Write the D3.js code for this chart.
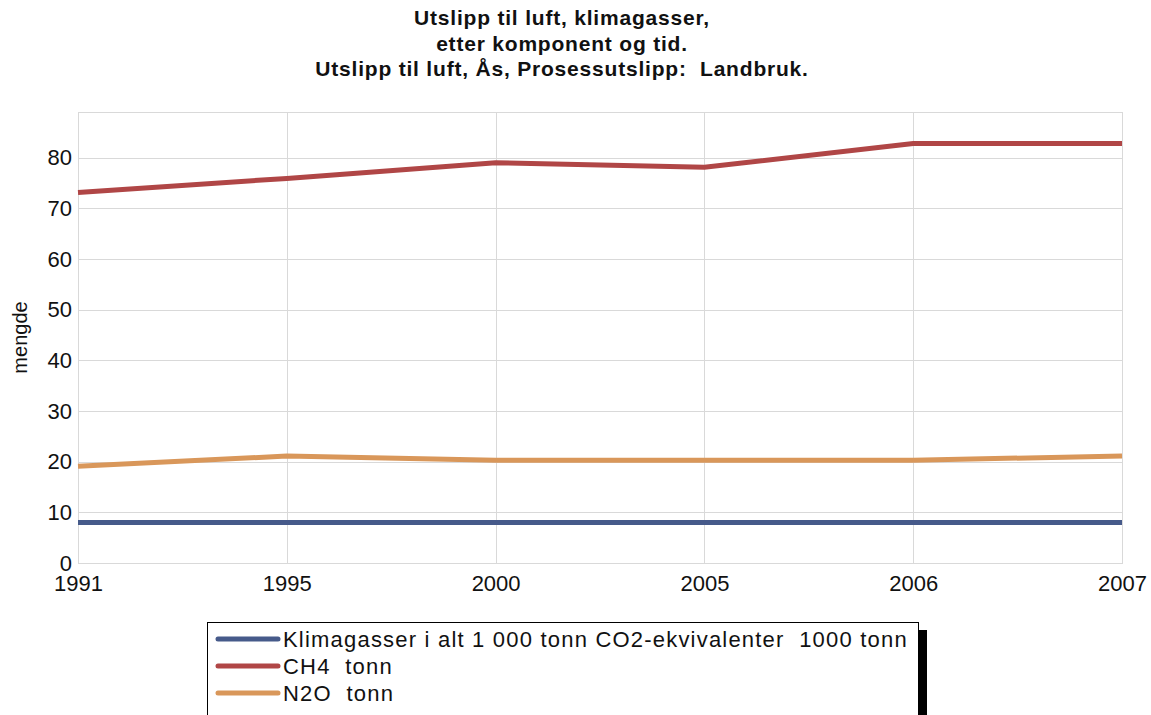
<!DOCTYPE html>
<html>
<head>
<meta charset="utf-8">
<script src="https://cdn.jsdelivr.net/npm/d3@7"></script>
<style>
  body { margin: 0; background: #fff; }
  text { font-family: "Liberation Sans", Arial, sans-serif; fill: #111; white-space: pre; }
</style>
</head>
<body>
<script>
const years = ['1991', '1995', '2000', '2005', '2006', '2007'];
const klimagasser = [8.0, 8.0, 8.0, 8.0, 8.0, 8.0];
const ch4 = [73.1, 75.9, 79.0, 78.1, 82.8, 82.8];
const n2o = [19.1, 21.1, 20.3, 20.3, 20.3, 21.1];
const yTicks = [0, 10, 20, 30, 40, 50, 60, 70, 80];
const titleLines = [
  'Utslipp til luft, klimagasser,',
  'etter komponent og tid.',
  'Utslipp til luft, Ås, Prosessutslipp:  Landbruk.'
];
const seriesNames = [
  'Klimagasser i alt 1 000 tonn CO2-ekvivalenter  1000 tonn',
  'CH4  tonn',
  'N2O  tonn'
];
const colors = ['#465a8a', '#b04646', '#d9975a'];

const w = 1151, h = 715;
const plotLeft = 78, plotRight = 1122, plotTop = 112, plotBottom = 563;

const svg = d3.select('body').append('svg')
  .attr('width', w)
  .attr('height', h);

const xScale = d3.scalePoint()
  .domain(years)
  .range([plotLeft, plotRight]);

const yScale = d3.scaleLinear()
  .domain([0, 89])
  .range([plotBottom, plotTop]);

// title
svg.append('g').selectAll('text')
  .data(titleLines)
  .enter()
  .append('text')
  .attr('x', 562)
  .attr('y', (d, i) => 25 + i * 25.5)
  .attr('text-anchor', 'middle')
  .attr('font-size', '21px')
  .attr('font-weight', 'bold')
  .attr('letter-spacing', '0.8px')
  .text(d => d);

// grid
const grid = svg.append('g').attr('stroke', '#d9d9d9').attr('stroke-width', 1);
grid.selectAll('.hline')
  .data(yTicks)
  .enter()
  .append('line')
  .attr('x1', plotLeft).attr('x2', plotRight)
  .attr('y1', d => Math.round(yScale(d)) + 0.5)
  .attr('y2', d => Math.round(yScale(d)) + 0.5);
grid.selectAll('.vline')
  .data(years)
  .enter()
  .append('line')
  .attr('x1', d => Math.round(xScale(d)) + 0.5)
  .attr('x2', d => Math.round(xScale(d)) + 0.5)
  .attr('y1', plotTop).attr('y2', plotBottom);
grid.append('rect')
  .attr('x', plotLeft + 0.5).attr('y', plotTop + 0.5)
  .attr('width', plotRight - plotLeft).attr('height', plotBottom - plotTop)
  .attr('fill', 'none');

// axes (labels only)
const yAxis = d3.axisLeft(yScale).tickValues(yTicks).tickSize(0).tickPadding(6);
svg.append('g')
  .attr('transform', `translate(${plotLeft}, 0)`)
  .call(yAxis)
  .call(g => g.select('.domain').remove())
  .selectAll('text')
  .attr('font-size', '22px')
  .attr('fill', '#1a1a1a')
  .style('font-family', '"Liberation Sans", Arial, sans-serif');

const xAxis = d3.axisBottom(xScale).tickSize(0).tickPadding(12);
svg.append('g')
  .attr('transform', `translate(0, ${plotBottom})`)
  .call(xAxis)
  .call(g => g.select('.domain').remove())
  .selectAll('text')
  .attr('font-size', '22px')
  .attr('fill', '#1a1a1a')
  .style('font-family', '"Liberation Sans", Arial, sans-serif');

svg.append('text')
  .attr('transform', `translate(27, ${(plotTop + plotBottom) / 2}) rotate(-90)`)
  .attr('text-anchor', 'middle')
  .attr('font-size', '20px')
  .text('mengde');

// lines
const series = [klimagasser, ch4, n2o];
const line = d3.line()
  .x((d, i) => xScale(years[i]))
  .y(d => yScale(d));

svg.append('g').selectAll('path')
  .data(series)
  .enter()
  .append('path')
  .attr('d', line)
  .attr('fill', 'none')
  .attr('stroke', (d, i) => colors[i])
  .attr('stroke-width', 5);

// legend
const legend = svg.append('g');
legend.append('rect')
  .attr('x', 919).attr('y', 630)
  .attr('width', 8).attr('height', 100)
  .attr('fill', '#000');
legend.append('rect')
  .attr('x', 207.5).attr('y', 622.5)
  .attr('width', 711).attr('height', 110)
  .attr('fill', '#fff')
  .attr('stroke', '#000');

const items = legend.selectAll('.item')
  .data(seriesNames)
  .enter()
  .append('g')
  .attr('transform', (d, i) => `translate(0, ${639 + i * 27})`);
items.append('line')
  .attr('x1', 218).attr('x2', 278)
  .attr('stroke', (d, i) => colors[i])
  .attr('stroke-width', 5)
  .attr('stroke-linecap', 'round');
items.append('text')
  .attr('x', 283)
  .attr('y', 8)
  .attr('font-size', '22px')
  .attr('letter-spacing', '1.2px')
  .text(d => d);
</script>
</body>
</html>
